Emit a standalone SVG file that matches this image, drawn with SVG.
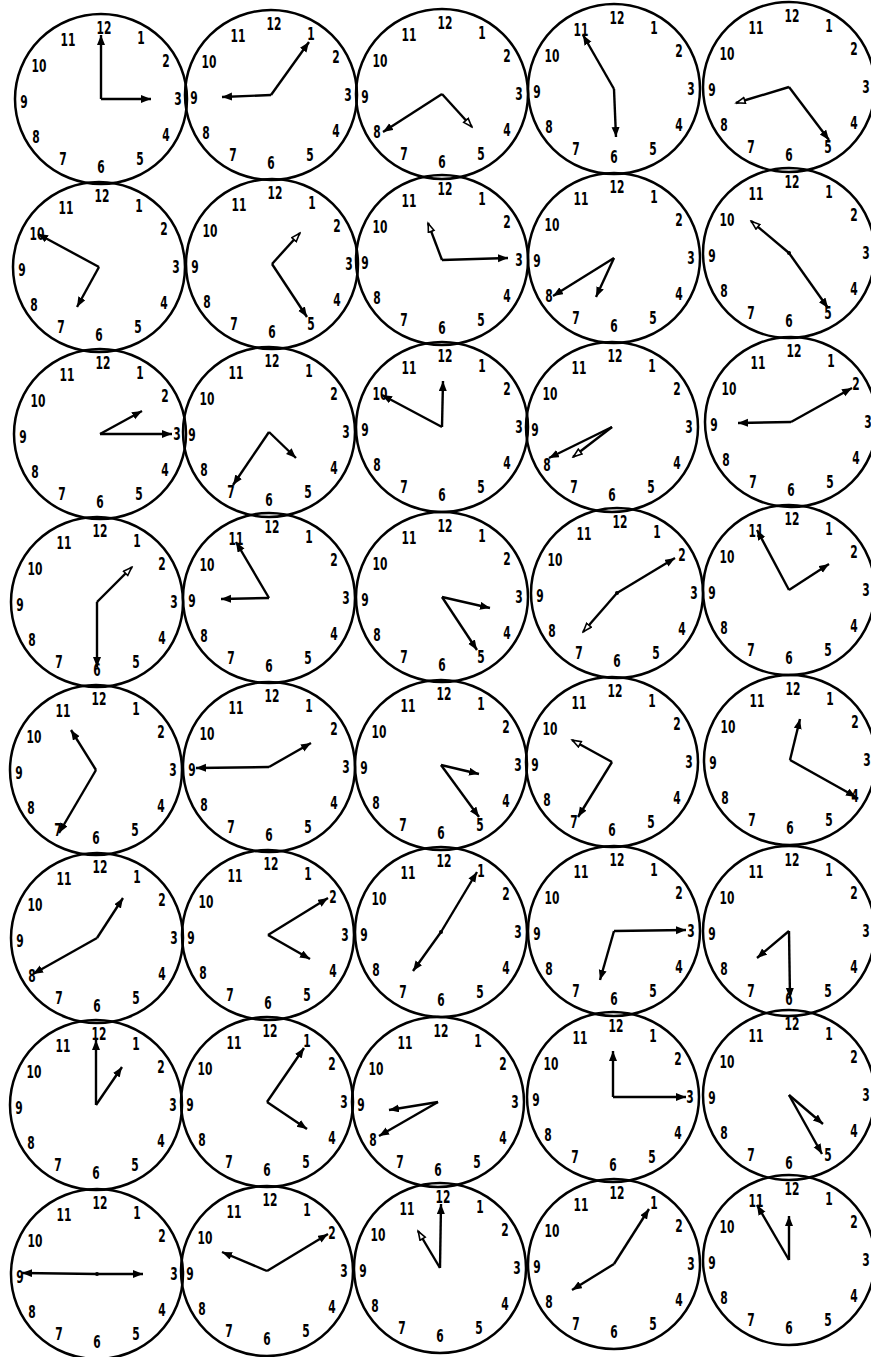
<svg xmlns="http://www.w3.org/2000/svg" width="871" height="1357" viewBox="0 0 871 1357">
<style>
.face{fill:none;stroke:#000;stroke-width:2.5}
.n{font-family:'DejaVu Sans Condensed','DejaVu Sans','Liberation Sans',sans-serif;font-weight:bold;font-size:17px;text-anchor:middle;dominant-baseline:central;fill:#000;transform-box:fill-box;transform-origin:center;transform:scaleX(.7)}
.h{stroke:#000;stroke-width:2.4;fill:none;marker-end:url(#ah)}
.o{stroke:#000;stroke-width:2.4;fill:none;marker-end:url(#ao)}
.dot{fill:#000}
</style>
<defs>
<marker id="ah" markerUnits="userSpaceOnUse" markerWidth="12" markerHeight="10" refX="10" refY="4" orient="auto"><path d="M0,0 L10,4 L0,8 z" fill="#000"/></marker>
<marker id="ao" markerUnits="userSpaceOnUse" markerWidth="12" markerHeight="10" refX="10" refY="4" orient="auto"><path d="M1,1 L9.5,4 L1,7 z" fill="#fff" stroke="#000" stroke-width="1.6"/></marker>
</defs>
<rect width="871" height="1357" fill="#fff"/>

<g id="clock-r1c1" transform="translate(101,99)"><ellipse class="face" rx="86" ry="85"/><text class="n" x="3" y="-71">12</text><text class="n" x="40" y="-61">1</text><text class="n" x="65" y="-38">2</text><text class="n" x="77" y="0">3</text><text class="n" x="65" y="36">4</text><text class="n" x="39" y="60">5</text><text class="n" x="0" y="68">6</text><text class="n" x="-38" y="60">7</text><text class="n" x="-65" y="38">8</text><text class="n" x="-77" y="3">9</text><text class="n" x="-62" y="-33">10</text><text class="n" x="-33" y="-59">11</text><line class="h" x1="0" y1="0" x2="0" y2="-64"/><line class="h" x1="0" y1="0" x2="50" y2="0"/></g>
<g id="clock-r1c2" transform="translate(271,95)"><ellipse class="face" rx="86" ry="85"/><text class="n" x="3" y="-71">12</text><text class="n" x="40" y="-61">1</text><text class="n" x="65" y="-38">2</text><text class="n" x="77" y="0">3</text><text class="n" x="65" y="36">4</text><text class="n" x="39" y="60">5</text><text class="n" x="0" y="68">6</text><text class="n" x="-38" y="60">7</text><text class="n" x="-65" y="38">8</text><text class="n" x="-77" y="3">9</text><text class="n" x="-62" y="-33">10</text><text class="n" x="-33" y="-59">11</text><line class="h" x1="0" y1="0" x2="-49" y2="2"/><line class="h" x1="0" y1="0" x2="38" y2="-53"/></g>
<g id="clock-r1c3" transform="translate(442,94)"><ellipse class="face" rx="86" ry="85"/><text class="n" x="3" y="-71">12</text><text class="n" x="40" y="-61">1</text><text class="n" x="65" y="-38">2</text><text class="n" x="77" y="0">3</text><text class="n" x="65" y="36">4</text><text class="n" x="39" y="60">5</text><text class="n" x="0" y="68">6</text><text class="n" x="-38" y="60">7</text><text class="n" x="-65" y="38">8</text><text class="n" x="-77" y="3">9</text><text class="n" x="-62" y="-33">10</text><text class="n" x="-33" y="-59">11</text><line class="h" x1="0" y1="0" x2="-59" y2="38"/><line class="o" x1="0" y1="0" x2="30" y2="33"/></g>
<g id="clock-r1c4" transform="translate(614,89)"><ellipse class="face" rx="86" ry="85"/><text class="n" x="3" y="-71">12</text><text class="n" x="40" y="-61">1</text><text class="n" x="65" y="-38">2</text><text class="n" x="77" y="0">3</text><text class="n" x="65" y="36">4</text><text class="n" x="39" y="60">5</text><text class="n" x="0" y="68">6</text><text class="n" x="-38" y="60">7</text><text class="n" x="-65" y="38">8</text><text class="n" x="-77" y="3">9</text><text class="n" x="-62" y="-33">10</text><text class="n" x="-33" y="-59">11</text><line class="h" x1="0" y1="0" x2="-31" y2="-54"/><line class="h" x1="0" y1="0" x2="2" y2="48"/></g>
<g id="clock-r1c5" transform="translate(789,87)"><ellipse class="face" rx="86" ry="85"/><text class="n" x="3" y="-71">12</text><text class="n" x="40" y="-61">1</text><text class="n" x="65" y="-38">2</text><text class="n" x="77" y="0">3</text><text class="n" x="65" y="36">4</text><text class="n" x="39" y="60">5</text><text class="n" x="0" y="68">6</text><text class="n" x="-38" y="60">7</text><text class="n" x="-65" y="38">8</text><text class="n" x="-77" y="3">9</text><text class="n" x="-62" y="-33">10</text><text class="n" x="-33" y="-59">11</text><line class="o" x1="0" y1="0" x2="-53" y2="16"/><line class="h" x1="0" y1="0" x2="40" y2="53"/></g>

<g id="clock-r2c1" transform="translate(99,267)"><ellipse class="face" rx="86" ry="85"/><text class="n" x="3" y="-71">12</text><text class="n" x="40" y="-61">1</text><text class="n" x="65" y="-38">2</text><text class="n" x="77" y="0">3</text><text class="n" x="65" y="36">4</text><text class="n" x="39" y="60">5</text><text class="n" x="0" y="68">6</text><text class="n" x="-38" y="60">7</text><text class="n" x="-65" y="38">8</text><text class="n" x="-77" y="3">9</text><text class="n" x="-62" y="-33">10</text><text class="n" x="-33" y="-59">11</text><line class="h" x1="0" y1="0" x2="-61" y2="-33"/><line class="h" x1="0" y1="0" x2="-22" y2="40"/></g>
<g id="clock-r2c2" transform="translate(272,264)"><ellipse class="face" rx="86" ry="85"/><text class="n" x="3" y="-71">12</text><text class="n" x="40" y="-61">1</text><text class="n" x="65" y="-38">2</text><text class="n" x="77" y="0">3</text><text class="n" x="65" y="36">4</text><text class="n" x="39" y="60">5</text><text class="n" x="0" y="68">6</text><text class="n" x="-38" y="60">7</text><text class="n" x="-65" y="38">8</text><text class="n" x="-77" y="3">9</text><text class="n" x="-62" y="-33">10</text><text class="n" x="-33" y="-59">11</text><line class="o" x1="0" y1="0" x2="28" y2="-31"/><line class="h" x1="0" y1="0" x2="35" y2="53"/></g>
<g id="clock-r2c3" transform="translate(442,260)"><ellipse class="face" rx="86" ry="85"/><text class="n" x="3" y="-71">12</text><text class="n" x="40" y="-61">1</text><text class="n" x="65" y="-38">2</text><text class="n" x="77" y="0">3</text><text class="n" x="65" y="36">4</text><text class="n" x="39" y="60">5</text><text class="n" x="0" y="68">6</text><text class="n" x="-38" y="60">7</text><text class="n" x="-65" y="38">8</text><text class="n" x="-77" y="3">9</text><text class="n" x="-62" y="-33">10</text><text class="n" x="-33" y="-59">11</text><line class="o" x1="0" y1="0" x2="-14" y2="-37"/><line class="h" x1="0" y1="0" x2="66" y2="-2"/></g>
<g id="clock-r2c4" transform="translate(614,258)"><ellipse class="face" rx="86" ry="85"/><text class="n" x="3" y="-71">12</text><text class="n" x="40" y="-61">1</text><text class="n" x="65" y="-38">2</text><text class="n" x="77" y="0">3</text><text class="n" x="65" y="36">4</text><text class="n" x="39" y="60">5</text><text class="n" x="0" y="68">6</text><text class="n" x="-38" y="60">7</text><text class="n" x="-65" y="38">8</text><text class="n" x="-77" y="3">9</text><text class="n" x="-62" y="-33">10</text><text class="n" x="-33" y="-59">11</text><line class="h" x1="0" y1="0" x2="-61" y2="38"/><line class="h" x1="0" y1="0" x2="-18" y2="39"/></g>
<g id="clock-r2c5" transform="translate(789,253)"><ellipse class="face" rx="86" ry="85"/><text class="n" x="3" y="-71">12</text><text class="n" x="40" y="-61">1</text><text class="n" x="65" y="-38">2</text><text class="n" x="77" y="0">3</text><text class="n" x="65" y="36">4</text><text class="n" x="39" y="60">5</text><text class="n" x="0" y="68">6</text><text class="n" x="-38" y="60">7</text><text class="n" x="-65" y="38">8</text><text class="n" x="-77" y="3">9</text><text class="n" x="-62" y="-33">10</text><text class="n" x="-33" y="-59">11</text><line class="o" x1="0" y1="0" x2="-38" y2="-32"/><line class="h" x1="0" y1="0" x2="39" y2="55"/><circle class="dot" r="2"/></g>

<g id="clock-r3c1" transform="translate(100,434)"><ellipse class="face" rx="86" ry="85"/><text class="n" x="3" y="-71">12</text><text class="n" x="40" y="-61">1</text><text class="n" x="65" y="-38">2</text><text class="n" x="77" y="0">3</text><text class="n" x="65" y="36">4</text><text class="n" x="39" y="60">5</text><text class="n" x="0" y="68">6</text><text class="n" x="-38" y="60">7</text><text class="n" x="-65" y="38">8</text><text class="n" x="-77" y="3">9</text><text class="n" x="-62" y="-33">10</text><text class="n" x="-33" y="-59">11</text><line class="h" x1="0" y1="0" x2="42" y2="-23"/><line class="h" x1="0" y1="0" x2="72" y2="0"/></g>
<g id="clock-r3c2" transform="translate(269,432)"><ellipse class="face" rx="86" ry="85"/><text class="n" x="3" y="-71">12</text><text class="n" x="40" y="-61">1</text><text class="n" x="65" y="-38">2</text><text class="n" x="77" y="0">3</text><text class="n" x="65" y="36">4</text><text class="n" x="39" y="60">5</text><text class="n" x="0" y="68">6</text><text class="n" x="-38" y="60">7</text><text class="n" x="-65" y="38">8</text><text class="n" x="-77" y="3">9</text><text class="n" x="-62" y="-33">10</text><text class="n" x="-33" y="-59">11</text><line class="h" x1="0" y1="0" x2="-36" y2="53"/><line class="h" x1="0" y1="0" x2="27" y2="26"/></g>
<g id="clock-r3c3" transform="translate(442,427)"><ellipse class="face" rx="86" ry="85"/><text class="n" x="3" y="-71">12</text><text class="n" x="40" y="-61">1</text><text class="n" x="65" y="-38">2</text><text class="n" x="77" y="0">3</text><text class="n" x="65" y="36">4</text><text class="n" x="39" y="60">5</text><text class="n" x="0" y="68">6</text><text class="n" x="-38" y="60">7</text><text class="n" x="-65" y="38">8</text><text class="n" x="-77" y="3">9</text><text class="n" x="-62" y="-33">10</text><text class="n" x="-33" y="-59">11</text><line class="h" x1="0" y1="0" x2="1" y2="-46"/><line class="h" x1="0" y1="0" x2="-60" y2="-32"/></g>
<g id="clock-r3c4" transform="translate(612,427)"><ellipse class="face" rx="86" ry="85"/><text class="n" x="3" y="-71">12</text><text class="n" x="40" y="-61">1</text><text class="n" x="65" y="-38">2</text><text class="n" x="77" y="0">3</text><text class="n" x="65" y="36">4</text><text class="n" x="39" y="60">5</text><text class="n" x="0" y="68">6</text><text class="n" x="-38" y="60">7</text><text class="n" x="-65" y="38">8</text><text class="n" x="-77" y="3">9</text><text class="n" x="-62" y="-33">10</text><text class="n" x="-33" y="-59">11</text><line class="h" x1="0" y1="0" x2="-63" y2="31"/><line class="o" x1="0" y1="0" x2="-39" y2="30"/></g>
<g id="clock-r3c5" transform="translate(791,422)"><ellipse class="face" rx="86" ry="85"/><text class="n" x="3" y="-71">12</text><text class="n" x="40" y="-61">1</text><text class="n" x="65" y="-38">2</text><text class="n" x="77" y="0">3</text><text class="n" x="65" y="36">4</text><text class="n" x="39" y="60">5</text><text class="n" x="0" y="68">6</text><text class="n" x="-38" y="60">7</text><text class="n" x="-65" y="38">8</text><text class="n" x="-77" y="3">9</text><text class="n" x="-62" y="-33">10</text><text class="n" x="-33" y="-59">11</text><line class="h" x1="0" y1="0" x2="-53" y2="1"/><line class="h" x1="0" y1="0" x2="61" y2="-34"/></g>

<g id="clock-r4c1" transform="translate(97,602)"><ellipse class="face" rx="86" ry="85"/><text class="n" x="3" y="-71">12</text><text class="n" x="40" y="-61">1</text><text class="n" x="65" y="-38">2</text><text class="n" x="77" y="0">3</text><text class="n" x="65" y="36">4</text><text class="n" x="39" y="60">5</text><text class="n" x="0" y="68">6</text><text class="n" x="-38" y="60">7</text><text class="n" x="-65" y="38">8</text><text class="n" x="-77" y="3">9</text><text class="n" x="-62" y="-33">10</text><text class="n" x="-33" y="-59">11</text><line class="o" x1="0" y1="0" x2="35" y2="-35"/><line class="h" x1="0" y1="0" x2="0" y2="65"/></g>
<g id="clock-r4c2" transform="translate(269,598)"><ellipse class="face" rx="86" ry="85"/><text class="n" x="3" y="-71">12</text><text class="n" x="40" y="-61">1</text><text class="n" x="65" y="-38">2</text><text class="n" x="77" y="0">3</text><text class="n" x="65" y="36">4</text><text class="n" x="39" y="60">5</text><text class="n" x="0" y="68">6</text><text class="n" x="-38" y="60">7</text><text class="n" x="-65" y="38">8</text><text class="n" x="-77" y="3">9</text><text class="n" x="-62" y="-33">10</text><text class="n" x="-33" y="-59">11</text><line class="h" x1="0" y1="0" x2="-33" y2="-56"/><line class="h" x1="0" y1="0" x2="-48" y2="1"/></g>
<g id="clock-r4c3" transform="translate(442,597)"><ellipse class="face" rx="86" ry="85"/><text class="n" x="3" y="-71">12</text><text class="n" x="40" y="-61">1</text><text class="n" x="65" y="-38">2</text><text class="n" x="77" y="0">3</text><text class="n" x="65" y="36">4</text><text class="n" x="39" y="60">5</text><text class="n" x="0" y="68">6</text><text class="n" x="-38" y="60">7</text><text class="n" x="-65" y="38">8</text><text class="n" x="-77" y="3">9</text><text class="n" x="-62" y="-33">10</text><text class="n" x="-33" y="-59">11</text><line class="h" x1="0" y1="0" x2="48" y2="11"/><line class="h" x1="0" y1="0" x2="35" y2="53"/></g>
<g id="clock-r4c4" transform="translate(617,593)"><ellipse class="face" rx="86" ry="85"/><text class="n" x="3" y="-71">12</text><text class="n" x="40" y="-61">1</text><text class="n" x="65" y="-38">2</text><text class="n" x="77" y="0">3</text><text class="n" x="65" y="36">4</text><text class="n" x="39" y="60">5</text><text class="n" x="0" y="68">6</text><text class="n" x="-38" y="60">7</text><text class="n" x="-65" y="38">8</text><text class="n" x="-77" y="3">9</text><text class="n" x="-62" y="-33">10</text><text class="n" x="-33" y="-59">11</text><line class="h" x1="0" y1="0" x2="58" y2="-35"/><line class="o" x1="0" y1="0" x2="-34" y2="39"/><circle class="dot" r="2"/></g>
<g id="clock-r4c5" transform="translate(789,590)"><ellipse class="face" rx="86" ry="85"/><text class="n" x="3" y="-71">12</text><text class="n" x="40" y="-61">1</text><text class="n" x="65" y="-38">2</text><text class="n" x="77" y="0">3</text><text class="n" x="65" y="36">4</text><text class="n" x="39" y="60">5</text><text class="n" x="0" y="68">6</text><text class="n" x="-38" y="60">7</text><text class="n" x="-65" y="38">8</text><text class="n" x="-77" y="3">9</text><text class="n" x="-62" y="-33">10</text><text class="n" x="-33" y="-59">11</text><line class="h" x1="0" y1="0" x2="-32" y2="-60"/><line class="h" x1="0" y1="0" x2="40" y2="-26"/></g>

<g id="clock-r5c1" transform="translate(96,770)"><ellipse class="face" rx="86" ry="85"/><text class="n" x="3" y="-71">12</text><text class="n" x="40" y="-61">1</text><text class="n" x="65" y="-38">2</text><text class="n" x="77" y="0">3</text><text class="n" x="65" y="36">4</text><text class="n" x="39" y="60">5</text><text class="n" x="0" y="68">6</text><text class="n" x="-38" y="60">7</text><text class="n" x="-65" y="38">8</text><text class="n" x="-77" y="3">9</text><text class="n" x="-62" y="-33">10</text><text class="n" x="-33" y="-59">11</text><line class="h" x1="0" y1="0" x2="-25" y2="-40"/><line class="h" x1="0" y1="0" x2="-37" y2="63"/></g>
<g id="clock-r5c2" transform="translate(269,767)"><ellipse class="face" rx="86" ry="85"/><text class="n" x="3" y="-71">12</text><text class="n" x="40" y="-61">1</text><text class="n" x="65" y="-38">2</text><text class="n" x="77" y="0">3</text><text class="n" x="65" y="36">4</text><text class="n" x="39" y="60">5</text><text class="n" x="0" y="68">6</text><text class="n" x="-38" y="60">7</text><text class="n" x="-65" y="38">8</text><text class="n" x="-77" y="3">9</text><text class="n" x="-62" y="-33">10</text><text class="n" x="-33" y="-59">11</text><line class="h" x1="0" y1="0" x2="-73" y2="1"/><line class="h" x1="0" y1="0" x2="42" y2="-24"/></g>
<g id="clock-r5c3" transform="translate(441,765)"><ellipse class="face" rx="86" ry="85"/><text class="n" x="3" y="-71">12</text><text class="n" x="40" y="-61">1</text><text class="n" x="65" y="-38">2</text><text class="n" x="77" y="0">3</text><text class="n" x="65" y="36">4</text><text class="n" x="39" y="60">5</text><text class="n" x="0" y="68">6</text><text class="n" x="-38" y="60">7</text><text class="n" x="-65" y="38">8</text><text class="n" x="-77" y="3">9</text><text class="n" x="-62" y="-33">10</text><text class="n" x="-33" y="-59">11</text><line class="h" x1="0" y1="0" x2="38" y2="9"/><line class="h" x1="0" y1="0" x2="38" y2="52"/></g>
<g id="clock-r5c4" transform="translate(612,762)"><ellipse class="face" rx="86" ry="85"/><text class="n" x="3" y="-71">12</text><text class="n" x="40" y="-61">1</text><text class="n" x="65" y="-38">2</text><text class="n" x="77" y="0">3</text><text class="n" x="65" y="36">4</text><text class="n" x="39" y="60">5</text><text class="n" x="0" y="68">6</text><text class="n" x="-38" y="60">7</text><text class="n" x="-65" y="38">8</text><text class="n" x="-77" y="3">9</text><text class="n" x="-62" y="-33">10</text><text class="n" x="-33" y="-59">11</text><line class="o" x1="0" y1="0" x2="-40" y2="-22"/><line class="h" x1="0" y1="0" x2="-34" y2="55"/></g>
<g id="clock-r5c5" transform="translate(790,760)"><ellipse class="face" rx="86" ry="85"/><text class="n" x="3" y="-71">12</text><text class="n" x="40" y="-61">1</text><text class="n" x="65" y="-38">2</text><text class="n" x="77" y="0">3</text><text class="n" x="65" y="36">4</text><text class="n" x="39" y="60">5</text><text class="n" x="0" y="68">6</text><text class="n" x="-38" y="60">7</text><text class="n" x="-65" y="38">8</text><text class="n" x="-77" y="3">9</text><text class="n" x="-62" y="-33">10</text><text class="n" x="-33" y="-59">11</text><line class="h" x1="0" y1="0" x2="10" y2="-41"/><line class="h" x1="0" y1="0" x2="66" y2="37"/></g>

<g id="clock-r6c1" transform="translate(97,938)"><ellipse class="face" rx="86" ry="85"/><text class="n" x="3" y="-71">12</text><text class="n" x="40" y="-61">1</text><text class="n" x="65" y="-38">2</text><text class="n" x="77" y="0">3</text><text class="n" x="65" y="36">4</text><text class="n" x="39" y="60">5</text><text class="n" x="0" y="68">6</text><text class="n" x="-38" y="60">7</text><text class="n" x="-65" y="38">8</text><text class="n" x="-77" y="3">9</text><text class="n" x="-62" y="-33">10</text><text class="n" x="-33" y="-59">11</text><line class="h" x1="0" y1="0" x2="26" y2="-40"/><line class="h" x1="0" y1="0" x2="-64" y2="36"/></g>
<g id="clock-r6c2" transform="translate(268,935)"><ellipse class="face" rx="86" ry="85"/><text class="n" x="3" y="-71">12</text><text class="n" x="40" y="-61">1</text><text class="n" x="65" y="-38">2</text><text class="n" x="77" y="0">3</text><text class="n" x="65" y="36">4</text><text class="n" x="39" y="60">5</text><text class="n" x="0" y="68">6</text><text class="n" x="-38" y="60">7</text><text class="n" x="-65" y="38">8</text><text class="n" x="-77" y="3">9</text><text class="n" x="-62" y="-33">10</text><text class="n" x="-33" y="-59">11</text><line class="h" x1="0" y1="0" x2="60" y2="-37"/><line class="h" x1="0" y1="0" x2="42" y2="24"/></g>
<g id="clock-r6c3" transform="translate(441,932)"><ellipse class="face" rx="86" ry="85"/><text class="n" x="3" y="-71">12</text><text class="n" x="40" y="-61">1</text><text class="n" x="65" y="-38">2</text><text class="n" x="77" y="0">3</text><text class="n" x="65" y="36">4</text><text class="n" x="39" y="60">5</text><text class="n" x="0" y="68">6</text><text class="n" x="-38" y="60">7</text><text class="n" x="-65" y="38">8</text><text class="n" x="-77" y="3">9</text><text class="n" x="-62" y="-33">10</text><text class="n" x="-33" y="-59">11</text><line class="h" x1="0" y1="0" x2="36" y2="-60"/><line class="h" x1="0" y1="0" x2="-28" y2="39"/><circle class="dot" r="2"/></g>
<g id="clock-r6c4" transform="translate(614,931)"><ellipse class="face" rx="86" ry="85"/><text class="n" x="3" y="-71">12</text><text class="n" x="40" y="-61">1</text><text class="n" x="65" y="-38">2</text><text class="n" x="77" y="0">3</text><text class="n" x="65" y="36">4</text><text class="n" x="39" y="60">5</text><text class="n" x="0" y="68">6</text><text class="n" x="-38" y="60">7</text><text class="n" x="-65" y="38">8</text><text class="n" x="-77" y="3">9</text><text class="n" x="-62" y="-33">10</text><text class="n" x="-33" y="-59">11</text><line class="h" x1="0" y1="0" x2="72" y2="-1"/><line class="h" x1="0" y1="0" x2="-14" y2="49"/></g>
<g id="clock-r6c5" transform="translate(789,931)"><ellipse class="face" rx="86" ry="85"/><text class="n" x="3" y="-71">12</text><text class="n" x="40" y="-61">1</text><text class="n" x="65" y="-38">2</text><text class="n" x="77" y="0">3</text><text class="n" x="65" y="36">4</text><text class="n" x="39" y="60">5</text><text class="n" x="0" y="68">6</text><text class="n" x="-38" y="60">7</text><text class="n" x="-65" y="38">8</text><text class="n" x="-77" y="3">9</text><text class="n" x="-62" y="-33">10</text><text class="n" x="-33" y="-59">11</text><line class="h" x1="0" y1="0" x2="1" y2="67"/><line class="h" x1="0" y1="0" x2="-32" y2="27"/></g>

<g id="clock-r7c1" transform="translate(96,1105)"><ellipse class="face" rx="86" ry="85"/><text class="n" x="3" y="-71">12</text><text class="n" x="40" y="-61">1</text><text class="n" x="65" y="-38">2</text><text class="n" x="77" y="0">3</text><text class="n" x="65" y="36">4</text><text class="n" x="39" y="60">5</text><text class="n" x="0" y="68">6</text><text class="n" x="-38" y="60">7</text><text class="n" x="-65" y="38">8</text><text class="n" x="-77" y="3">9</text><text class="n" x="-62" y="-33">10</text><text class="n" x="-33" y="-59">11</text><line class="h" x1="0" y1="0" x2="0" y2="-65"/><line class="h" x1="0" y1="0" x2="26" y2="-38"/></g>
<g id="clock-r7c2" transform="translate(267,1102)"><ellipse class="face" rx="86" ry="85"/><text class="n" x="3" y="-71">12</text><text class="n" x="40" y="-61">1</text><text class="n" x="65" y="-38">2</text><text class="n" x="77" y="0">3</text><text class="n" x="65" y="36">4</text><text class="n" x="39" y="60">5</text><text class="n" x="0" y="68">6</text><text class="n" x="-38" y="60">7</text><text class="n" x="-65" y="38">8</text><text class="n" x="-77" y="3">9</text><text class="n" x="-62" y="-33">10</text><text class="n" x="-33" y="-59">11</text><line class="h" x1="0" y1="0" x2="37" y2="-54"/><line class="h" x1="0" y1="0" x2="40" y2="27"/></g>
<g id="clock-r7c3" transform="translate(438,1102)"><ellipse class="face" rx="86" ry="85"/><text class="n" x="3" y="-71">12</text><text class="n" x="40" y="-61">1</text><text class="n" x="65" y="-38">2</text><text class="n" x="77" y="0">3</text><text class="n" x="65" y="36">4</text><text class="n" x="39" y="60">5</text><text class="n" x="0" y="68">6</text><text class="n" x="-38" y="60">7</text><text class="n" x="-65" y="38">8</text><text class="n" x="-77" y="3">9</text><text class="n" x="-62" y="-33">10</text><text class="n" x="-33" y="-59">11</text><line class="h" x1="0" y1="0" x2="-49" y2="8"/><line class="h" x1="0" y1="0" x2="-59" y2="34"/></g>
<g id="clock-r7c4" transform="translate(613,1097)"><ellipse class="face" rx="86" ry="85"/><text class="n" x="3" y="-71">12</text><text class="n" x="40" y="-61">1</text><text class="n" x="65" y="-38">2</text><text class="n" x="77" y="0">3</text><text class="n" x="65" y="36">4</text><text class="n" x="39" y="60">5</text><text class="n" x="0" y="68">6</text><text class="n" x="-38" y="60">7</text><text class="n" x="-65" y="38">8</text><text class="n" x="-77" y="3">9</text><text class="n" x="-62" y="-33">10</text><text class="n" x="-33" y="-59">11</text><line class="h" x1="0" y1="0" x2="0" y2="-46"/><line class="h" x1="0" y1="0" x2="73" y2="0"/></g>
<g id="clock-r7c5" transform="translate(789,1095)"><ellipse class="face" rx="86" ry="85"/><text class="n" x="3" y="-71">12</text><text class="n" x="40" y="-61">1</text><text class="n" x="65" y="-38">2</text><text class="n" x="77" y="0">3</text><text class="n" x="65" y="36">4</text><text class="n" x="39" y="60">5</text><text class="n" x="0" y="68">6</text><text class="n" x="-38" y="60">7</text><text class="n" x="-65" y="38">8</text><text class="n" x="-77" y="3">9</text><text class="n" x="-62" y="-33">10</text><text class="n" x="-33" y="-59">11</text><line class="h" x1="0" y1="0" x2="34" y2="29"/><line class="h" x1="0" y1="0" x2="33" y2="59"/></g>

<g id="clock-r8c1" transform="translate(97,1274)"><ellipse class="face" rx="86" ry="85"/><text class="n" x="3" y="-71">12</text><text class="n" x="40" y="-61">1</text><text class="n" x="65" y="-38">2</text><text class="n" x="77" y="0">3</text><text class="n" x="65" y="36">4</text><text class="n" x="39" y="60">5</text><text class="n" x="0" y="68">6</text><text class="n" x="-38" y="60">7</text><text class="n" x="-65" y="38">8</text><text class="n" x="-77" y="3">9</text><text class="n" x="-62" y="-33">10</text><text class="n" x="-33" y="-59">11</text><line class="h" x1="0" y1="0" x2="-75" y2="-1"/><line class="h" x1="0" y1="0" x2="46" y2="0"/><circle class="dot" r="2"/></g>
<g id="clock-r8c2" transform="translate(267,1271)"><ellipse class="face" rx="86" ry="85"/><text class="n" x="3" y="-71">12</text><text class="n" x="40" y="-61">1</text><text class="n" x="65" y="-38">2</text><text class="n" x="77" y="0">3</text><text class="n" x="65" y="36">4</text><text class="n" x="39" y="60">5</text><text class="n" x="0" y="68">6</text><text class="n" x="-38" y="60">7</text><text class="n" x="-65" y="38">8</text><text class="n" x="-77" y="3">9</text><text class="n" x="-62" y="-33">10</text><text class="n" x="-33" y="-59">11</text><line class="h" x1="0" y1="0" x2="-45" y2="-19"/><line class="h" x1="0" y1="0" x2="61" y2="-37"/></g>
<g id="clock-r8c3" transform="translate(440,1268)"><ellipse class="face" rx="86" ry="85"/><text class="n" x="3" y="-71">12</text><text class="n" x="40" y="-61">1</text><text class="n" x="65" y="-38">2</text><text class="n" x="77" y="0">3</text><text class="n" x="65" y="36">4</text><text class="n" x="39" y="60">5</text><text class="n" x="0" y="68">6</text><text class="n" x="-38" y="60">7</text><text class="n" x="-65" y="38">8</text><text class="n" x="-77" y="3">9</text><text class="n" x="-62" y="-33">10</text><text class="n" x="-33" y="-59">11</text><line class="h" x1="0" y1="0" x2="1" y2="-64"/><line class="o" x1="0" y1="0" x2="-22" y2="-37"/></g>
<g id="clock-r8c4" transform="translate(614,1264)"><ellipse class="face" rx="86" ry="85"/><text class="n" x="3" y="-71">12</text><text class="n" x="40" y="-61">1</text><text class="n" x="65" y="-38">2</text><text class="n" x="77" y="0">3</text><text class="n" x="65" y="36">4</text><text class="n" x="39" y="60">5</text><text class="n" x="0" y="68">6</text><text class="n" x="-38" y="60">7</text><text class="n" x="-65" y="38">8</text><text class="n" x="-77" y="3">9</text><text class="n" x="-62" y="-33">10</text><text class="n" x="-33" y="-59">11</text><line class="h" x1="0" y1="0" x2="35" y2="-55"/><line class="h" x1="0" y1="0" x2="-42" y2="26"/></g>
<g id="clock-r8c5" transform="translate(789,1260)"><ellipse class="face" rx="86" ry="85"/><text class="n" x="3" y="-71">12</text><text class="n" x="40" y="-61">1</text><text class="n" x="65" y="-38">2</text><text class="n" x="77" y="0">3</text><text class="n" x="65" y="36">4</text><text class="n" x="39" y="60">5</text><text class="n" x="0" y="68">6</text><text class="n" x="-38" y="60">7</text><text class="n" x="-65" y="38">8</text><text class="n" x="-77" y="3">9</text><text class="n" x="-62" y="-33">10</text><text class="n" x="-33" y="-59">11</text><line class="h" x1="0" y1="0" x2="-32" y2="-55"/><line class="h" x1="0" y1="0" x2="0" y2="-44"/></g>
</svg>
